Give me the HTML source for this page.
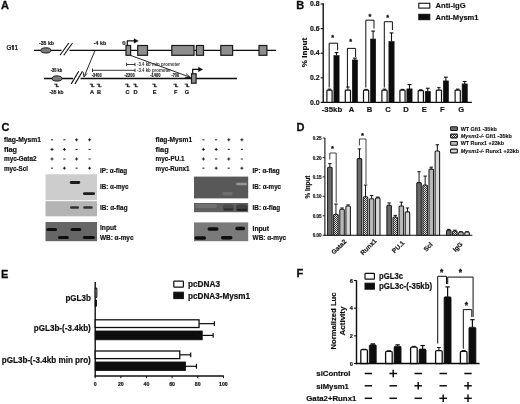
<!DOCTYPE html>
<html><head><meta charset="utf-8"><title>Figure</title>
<style>
html,body{margin:0;padding:0;background:#fff;}
body{width:520px;height:404px;overflow:hidden;}
svg{display:block;font-family:"Liberation Sans",sans-serif;}
text[font-weight=bold]:not([stroke]){stroke:#111;stroke-width:.16px;}
</style></head><body>
<svg width="520" height="404" viewBox="0 0 520 404">
<defs>
<filter id="bl" x="-20%" y="-50%" width="140%" height="200%"><feGaussianBlur stdDeviation="0.45"/></filter>
<filter id="soft"><feGaussianBlur stdDeviation="0.35"/></filter>
<pattern id="chk" width="2" height="2" patternUnits="userSpaceOnUse"><rect width="2" height="2" fill="#e8e8e8"/><rect width="1" height="1" fill="#333"/><rect x="1" y="1" width="1" height="1" fill="#333"/></pattern>
</defs>
<rect width="520" height="404" fill="#fff"/>
<g filter="url(#soft)">
<g id="panelA">
<text x="1.1" y="9.36" font-size="11" font-weight="bold" fill="#111" stroke="#111" stroke-width="0.3">A</text>
<text x="6.5" y="49.58" font-size="6.6" textLength="11.5" lengthAdjust="spacingAndGlyphs" fill="#000" stroke="#000" stroke-width="0.22">Gfi1</text>
<line x1="34" y1="50.4" x2="276" y2="50.4" stroke="#111" stroke-width="1.4" />
<ellipse cx="45.9" cy="50.4" rx="5.1" ry="2.6" fill="#7a7a7a" stroke="#1a1a1a" stroke-width="1"/>
<rect x="61.50" y="49.00" width="8.00" height="3.00" fill="#fff" stroke="none" stroke-width="0" />
<line x1="60" y1="55.2" x2="68.75" y2="43" stroke="#111" stroke-width="1.1" />
<line x1="63.75" y1="55.2" x2="72.5" y2="43" stroke="#111" stroke-width="1.1" />
<text x="46.5" y="44.73" font-size="6.2" font-weight="bold" text-anchor="middle" textLength="15" lengthAdjust="spacingAndGlyphs" fill="#111" >-35 kb</text>
<text x="100" y="44.73" font-size="6.2" font-weight="bold" text-anchor="middle" textLength="12.5" lengthAdjust="spacingAndGlyphs" fill="#111" >-4 kb</text>
<text x="123.8" y="45.16" font-size="6" font-weight="bold" text-anchor="middle" fill="#111" >0</text>
<path d="M127.3 45.5 V40.9 H135" stroke="#111" stroke-width="1.2" fill="none" />
<path d="M134 38.6 L138.4 40.9 L134 43.2 Z" stroke="#111" stroke-width="0.3" fill="#111" />
<rect x="126.00" y="45.50" width="4.60" height="9.80" fill="#8e8e8e" stroke="#1a1a1a" stroke-width="1.2" />
<rect x="137.70" y="45.50" width="9.80" height="9.80" fill="#8e8e8e" stroke="#1a1a1a" stroke-width="1.2" />
<rect x="171.80" y="45.50" width="22.20" height="9.80" fill="#8e8e8e" stroke="#1a1a1a" stroke-width="1.2" />
<rect x="196.40" y="45.50" width="7.10" height="9.80" fill="#8e8e8e" stroke="#1a1a1a" stroke-width="1.2" />
<rect x="220.80" y="45.50" width="11.80" height="9.80" fill="#8e8e8e" stroke="#1a1a1a" stroke-width="1.2" />
<rect x="259.00" y="45.50" width="7.90" height="9.80" fill="#8e8e8e" stroke="#1a1a1a" stroke-width="1.2" />
<line x1="95" y1="50.5" x2="84.6" y2="75.5" stroke="#111" stroke-width="0.9" />
<path d="M83.2 72.2 L84 77 L87 73.6" stroke="#111" stroke-width="0.9" fill="none" />
<line x1="130" y1="55.2" x2="189.5" y2="77" stroke="#111" stroke-width="0.9" />
<path d="M186 73.6 L190.6 77.6 L184.8 77.4" stroke="#111" stroke-width="0.9" fill="none" />
<line x1="126.6" y1="64.5" x2="135" y2="64.5" stroke="#222" stroke-width="0.9" />
<line x1="126.6" y1="62.8" x2="126.6" y2="66.2" stroke="#222" stroke-width="0.9" />
<line x1="135" y1="62.8" x2="135" y2="66.2" stroke="#222" stroke-width="0.9" />
<text x="137" y="66.12" font-size="4.5" font-weight="bold" textLength="43" lengthAdjust="spacingAndGlyphs" fill="#333" stroke="none">-3.4 kb min promoter</text>
<line x1="92.5" y1="70.3" x2="135" y2="70.3" stroke="#222" stroke-width="0.9" />
<line x1="92.5" y1="68.6" x2="92.5" y2="72" stroke="#222" stroke-width="0.9" />
<line x1="135" y1="68.6" x2="135" y2="72" stroke="#222" stroke-width="0.9" />
<text x="137" y="71.92" font-size="4.5" font-weight="bold" textLength="34" lengthAdjust="spacingAndGlyphs" fill="#333" stroke="none">-3.4 kb promoter</text>
<line x1="44" y1="78.5" x2="237" y2="78.5" stroke="#111" stroke-width="1.4" />
<ellipse cx="57" cy="78.5" rx="5" ry="2.6" fill="#7a7a7a" stroke="#1a1a1a" stroke-width="1"/>
<rect x="73.00" y="77.00" width="7.50" height="3.00" fill="#fff" stroke="none" stroke-width="0" />
<line x1="71.25" y1="83.9" x2="78.75" y2="71.25" stroke="#111" stroke-width="1.1" />
<line x1="75" y1="83.9" x2="82.5" y2="71.25" stroke="#111" stroke-width="1.1" />
<text x="56.5" y="71.69" font-size="4.7" font-weight="bold" text-anchor="middle" textLength="11.5" lengthAdjust="spacingAndGlyphs" fill="#111" >-35 kb</text>
<rect x="191.50" y="73.80" width="4.60" height="9.40" fill="#8e8e8e" stroke="#1a1a1a" stroke-width="1.2" />
<path d="M192.7 73.7 V69.4 H199.4" stroke="#111" stroke-width="1.2" fill="none" />
<path d="M198.4 67.1 L202.8 69.4 L198.4 71.7 Z" stroke="#111" stroke-width="0.3" fill="#111" />
<text x="96.7" y="77.14" font-size="5.4" font-weight="bold" text-anchor="middle" textLength="9.8" lengthAdjust="spacingAndGlyphs" fill="#111" >-3400</text>
<text x="129.6" y="77.14" font-size="5.4" font-weight="bold" text-anchor="middle" textLength="10.2" lengthAdjust="spacingAndGlyphs" fill="#111" >-2200</text>
<text x="155.4" y="77.14" font-size="5.4" font-weight="bold" text-anchor="middle" textLength="10.2" lengthAdjust="spacingAndGlyphs" fill="#111" >-1400</text>
<text x="175.3" y="77.14" font-size="5.4" font-weight="bold" text-anchor="middle" textLength="7.8" lengthAdjust="spacingAndGlyphs" fill="#111" >-700</text>
<line x1="54.1" y1="84.2" x2="56.3" y2="84.2" stroke="#111" stroke-width="0.8" />
<line x1="56.8" y1="86.7" x2="59.1" y2="86.7" stroke="#111" stroke-width="0.8" />
<rect x="55.80" y="83.70" width="1.60" height="3.40" fill="#2a2a2a" stroke="none" stroke-width="0" />
<text x="56.5" y="94.39" font-size="5.8" font-weight="bold" text-anchor="middle" textLength="14" lengthAdjust="spacingAndGlyphs" fill="#111" >-35 kb</text>
<line x1="89.6" y1="84.2" x2="91.8" y2="84.2" stroke="#111" stroke-width="0.8" />
<line x1="92.3" y1="86.7" x2="94.6" y2="86.7" stroke="#111" stroke-width="0.8" />
<rect x="91.30" y="83.70" width="1.60" height="3.40" fill="#2a2a2a" stroke="none" stroke-width="0" />
<text x="92" y="94.32" font-size="5.6" font-weight="bold" text-anchor="middle" fill="#111" >A</text>
<line x1="96.6" y1="84.2" x2="98.8" y2="84.2" stroke="#111" stroke-width="0.8" />
<line x1="99.3" y1="86.7" x2="101.6" y2="86.7" stroke="#111" stroke-width="0.8" />
<rect x="98.30" y="83.70" width="1.60" height="3.40" fill="#2a2a2a" stroke="none" stroke-width="0" />
<text x="99" y="94.32" font-size="5.6" font-weight="bold" text-anchor="middle" fill="#111" >B</text>
<line x1="125.1" y1="84.2" x2="127.3" y2="84.2" stroke="#111" stroke-width="0.8" />
<line x1="127.8" y1="86.7" x2="130.1" y2="86.7" stroke="#111" stroke-width="0.8" />
<rect x="126.80" y="83.70" width="1.60" height="3.40" fill="#2a2a2a" stroke="none" stroke-width="0" />
<text x="127.5" y="94.32" font-size="5.6" font-weight="bold" text-anchor="middle" fill="#111" >C</text>
<line x1="133.1" y1="84.2" x2="135.3" y2="84.2" stroke="#111" stroke-width="0.8" />
<line x1="135.8" y1="86.7" x2="138.1" y2="86.7" stroke="#111" stroke-width="0.8" />
<rect x="134.80" y="83.70" width="1.60" height="3.40" fill="#2a2a2a" stroke="none" stroke-width="0" />
<text x="135.5" y="94.32" font-size="5.6" font-weight="bold" text-anchor="middle" fill="#111" >D</text>
<line x1="152.2" y1="84.2" x2="154.4" y2="84.2" stroke="#111" stroke-width="0.8" />
<line x1="154.9" y1="86.7" x2="157.2" y2="86.7" stroke="#111" stroke-width="0.8" />
<rect x="153.90" y="83.70" width="1.60" height="3.40" fill="#2a2a2a" stroke="none" stroke-width="0" />
<text x="154.6" y="94.32" font-size="5.6" font-weight="bold" text-anchor="middle" fill="#111" >E</text>
<line x1="173.4" y1="84.2" x2="175.60000000000002" y2="84.2" stroke="#111" stroke-width="0.8" />
<line x1="176.10000000000002" y1="86.7" x2="178.4" y2="86.7" stroke="#111" stroke-width="0.8" />
<rect x="175.10" y="83.70" width="1.60" height="3.40" fill="#2a2a2a" stroke="none" stroke-width="0" />
<text x="175.8" y="94.32" font-size="5.6" font-weight="bold" text-anchor="middle" fill="#111" >F</text>
<line x1="184.6" y1="84.2" x2="186.8" y2="84.2" stroke="#111" stroke-width="0.8" />
<line x1="187.3" y1="86.7" x2="189.6" y2="86.7" stroke="#111" stroke-width="0.8" />
<rect x="186.30" y="83.70" width="1.60" height="3.40" fill="#2a2a2a" stroke="none" stroke-width="0" />
<text x="187" y="94.32" font-size="5.6" font-weight="bold" text-anchor="middle" fill="#111" >G</text>
</g>
<g id="panelB">
<text x="296.2" y="9.36" font-size="11" font-weight="bold" fill="#111" stroke="#111" stroke-width="0.3">B</text>
<line x1="323.2" y1="3.3" x2="323.2" y2="103.10000000000001" stroke="#111" stroke-width="1.4" />
<line x1="322.5" y1="102.4" x2="471.9" y2="102.4" stroke="#111" stroke-width="1.4" />
<line x1="320.59999999999997" y1="102.4" x2="323.2" y2="102.4" stroke="#111" stroke-width="1.1" />
<text x="319.59999999999997" y="104.67" font-size="6.3" font-weight="bold" text-anchor="end" textLength="9.6" lengthAdjust="spacingAndGlyphs" fill="#111" >0.0</text>
<line x1="320.59999999999997" y1="77.80000000000001" x2="323.2" y2="77.80000000000001" stroke="#111" stroke-width="1.1" />
<text x="319.59999999999997" y="80.07" font-size="6.3" font-weight="bold" text-anchor="end" textLength="9.6" lengthAdjust="spacingAndGlyphs" fill="#111" >0.2</text>
<line x1="320.59999999999997" y1="53.2" x2="323.2" y2="53.2" stroke="#111" stroke-width="1.1" />
<text x="319.59999999999997" y="55.47" font-size="6.3" font-weight="bold" text-anchor="end" textLength="9.6" lengthAdjust="spacingAndGlyphs" fill="#111" >0.4</text>
<line x1="320.59999999999997" y1="28.60000000000001" x2="323.2" y2="28.60000000000001" stroke="#111" stroke-width="1.1" />
<text x="319.59999999999997" y="30.87" font-size="6.3" font-weight="bold" text-anchor="end" textLength="9.6" lengthAdjust="spacingAndGlyphs" fill="#111" >0.6</text>
<line x1="320.59999999999997" y1="4.0" x2="323.2" y2="4.0" stroke="#111" stroke-width="1.1" />
<text x="319.59999999999997" y="6.27" font-size="6.3" font-weight="bold" text-anchor="end" textLength="9.6" lengthAdjust="spacingAndGlyphs" fill="#111" >0.8</text>
<text x="304" y="55.27" font-size="7.7" font-weight="bold" text-anchor="middle" textLength="29.5" lengthAdjust="spacingAndGlyphs" transform="rotate(-90 304 52.5)" fill="#111" >% Input</text>
<line x1="329.49999999999994" y1="90.10000000000001" x2="329.49999999999994" y2="89.116" stroke="#111" stroke-width="1" />
<line x1="327.79999999999995" y1="89.116" x2="331.19999999999993" y2="89.116" stroke="#111" stroke-width="1" />
<line x1="336.50000000000006" y1="55.660000000000004" x2="336.50000000000006" y2="52.585" stroke="#111" stroke-width="1.1" />
<line x1="334.6000000000001" y1="52.585" x2="338.40000000000003" y2="52.585" stroke="#111" stroke-width="1.1" />
<rect x="326.90" y="90.10" width="5.20" height="12.30" fill="#fff" stroke="#111" stroke-width="1.2" rx="0.8"/>
<rect x="333.90" y="55.66" width="5.20" height="46.74" fill="#111" stroke="#111" stroke-width="0.6" />
<text x="332" y="112.04" font-size="7.6" font-weight="bold" text-anchor="middle" textLength="20.5" lengthAdjust="spacingAndGlyphs" fill="#111" >-35kb</text>
<line x1="347.8999999999999" y1="90.10000000000001" x2="347.8999999999999" y2="87.025" stroke="#111" stroke-width="1" />
<line x1="346.19999999999993" y1="87.025" x2="349.5999999999999" y2="87.025" stroke="#111" stroke-width="1" />
<line x1="354.90000000000003" y1="59.96500000000001" x2="354.90000000000003" y2="58.120000000000005" stroke="#111" stroke-width="1.1" />
<line x1="353.00000000000006" y1="58.120000000000005" x2="356.8" y2="58.120000000000005" stroke="#111" stroke-width="1.1" />
<rect x="345.30" y="90.10" width="5.20" height="12.30" fill="#fff" stroke="#111" stroke-width="1.2" rx="0.8"/>
<rect x="352.30" y="59.97" width="5.20" height="42.43" fill="#111" stroke="#111" stroke-width="0.6" />
<text x="351.4" y="112.04" font-size="7.6" font-weight="bold" text-anchor="middle" fill="#111" >A</text>
<line x1="366.09999999999997" y1="90.10000000000001" x2="366.09999999999997" y2="89.36200000000001" stroke="#111" stroke-width="1" />
<line x1="364.4" y1="89.36200000000001" x2="367.79999999999995" y2="89.36200000000001" stroke="#111" stroke-width="1" />
<line x1="373.1000000000001" y1="39.05500000000001" x2="373.1000000000001" y2="31.060000000000002" stroke="#111" stroke-width="1.1" />
<line x1="371.2000000000001" y1="31.060000000000002" x2="375.00000000000006" y2="31.060000000000002" stroke="#111" stroke-width="1.1" />
<rect x="363.50" y="90.10" width="5.20" height="12.30" fill="#fff" stroke="#111" stroke-width="1.2" rx="0.8"/>
<rect x="370.50" y="39.06" width="5.20" height="63.34" fill="#111" stroke="#111" stroke-width="0.6" />
<text x="369.6" y="112.04" font-size="7.6" font-weight="bold" text-anchor="middle" fill="#111" >B</text>
<line x1="384.49999999999994" y1="90.10000000000001" x2="384.49999999999994" y2="89.116" stroke="#111" stroke-width="1" />
<line x1="382.79999999999995" y1="89.116" x2="386.19999999999993" y2="89.116" stroke="#111" stroke-width="1" />
<line x1="391.50000000000006" y1="41.51500000000001" x2="391.50000000000006" y2="32.905000000000015" stroke="#111" stroke-width="1.1" />
<line x1="389.6000000000001" y1="32.905000000000015" x2="393.40000000000003" y2="32.905000000000015" stroke="#111" stroke-width="1.1" />
<rect x="381.90" y="90.10" width="5.20" height="12.30" fill="#fff" stroke="#111" stroke-width="1.2" rx="0.8"/>
<rect x="388.90" y="41.52" width="5.20" height="60.88" fill="#111" stroke="#111" stroke-width="0.6" />
<text x="388" y="112.04" font-size="7.6" font-weight="bold" text-anchor="middle" fill="#111" >C</text>
<line x1="402.49999999999994" y1="90.10000000000001" x2="402.49999999999994" y2="89.36200000000001" stroke="#111" stroke-width="1" />
<line x1="400.79999999999995" y1="89.36200000000001" x2="404.19999999999993" y2="89.36200000000001" stroke="#111" stroke-width="1" />
<line x1="409.50000000000006" y1="88.87" x2="409.50000000000006" y2="84.565" stroke="#111" stroke-width="1.1" />
<line x1="407.6000000000001" y1="84.565" x2="411.40000000000003" y2="84.565" stroke="#111" stroke-width="1.1" />
<rect x="399.90" y="90.10" width="5.20" height="12.30" fill="#fff" stroke="#111" stroke-width="1.2" rx="0.8"/>
<rect x="406.90" y="88.87" width="5.20" height="13.53" fill="#111" stroke="#111" stroke-width="0.6" />
<text x="406" y="112.04" font-size="7.6" font-weight="bold" text-anchor="middle" fill="#111" >D</text>
<line x1="420.79999999999995" y1="90.715" x2="420.79999999999995" y2="89.73100000000001" stroke="#111" stroke-width="1" />
<line x1="419.09999999999997" y1="89.73100000000001" x2="422.49999999999994" y2="89.73100000000001" stroke="#111" stroke-width="1" />
<line x1="427.80000000000007" y1="91.33000000000001" x2="427.80000000000007" y2="88.25500000000001" stroke="#111" stroke-width="1.1" />
<line x1="425.9000000000001" y1="88.25500000000001" x2="429.70000000000005" y2="88.25500000000001" stroke="#111" stroke-width="1.1" />
<rect x="418.20" y="90.72" width="5.20" height="11.69" fill="#fff" stroke="#111" stroke-width="1.2" rx="0.8"/>
<rect x="425.20" y="91.33" width="5.20" height="11.07" fill="#111" stroke="#111" stroke-width="0.6" />
<text x="424.3" y="112.04" font-size="7.6" font-weight="bold" text-anchor="middle" fill="#111" >E</text>
<line x1="438.8999999999999" y1="90.10000000000001" x2="438.8999999999999" y2="87.64" stroke="#111" stroke-width="1" />
<line x1="437.19999999999993" y1="87.64" x2="440.5999999999999" y2="87.64" stroke="#111" stroke-width="1" />
<line x1="445.90000000000003" y1="80.875" x2="445.90000000000003" y2="77.185" stroke="#111" stroke-width="1.1" />
<line x1="444.00000000000006" y1="77.185" x2="447.8" y2="77.185" stroke="#111" stroke-width="1.1" />
<rect x="436.30" y="90.10" width="5.20" height="12.30" fill="#fff" stroke="#111" stroke-width="1.2" rx="0.8"/>
<rect x="443.30" y="80.88" width="5.20" height="21.52" fill="#111" stroke="#111" stroke-width="0.6" />
<text x="442.4" y="112.04" font-size="7.6" font-weight="bold" text-anchor="middle" fill="#111" >F</text>
<line x1="457.69999999999993" y1="90.10000000000001" x2="457.69999999999993" y2="89.116" stroke="#111" stroke-width="1" />
<line x1="455.99999999999994" y1="89.116" x2="459.3999999999999" y2="89.116" stroke="#111" stroke-width="1" />
<line x1="464.70000000000005" y1="83.95" x2="464.70000000000005" y2="81.49000000000001" stroke="#111" stroke-width="1.1" />
<line x1="462.80000000000007" y1="81.49000000000001" x2="466.6" y2="81.49000000000001" stroke="#111" stroke-width="1.1" />
<rect x="455.10" y="90.10" width="5.20" height="12.30" fill="#fff" stroke="#111" stroke-width="1.2" rx="0.8"/>
<rect x="462.10" y="83.95" width="5.20" height="18.45" fill="#111" stroke="#111" stroke-width="0.6" />
<text x="461.2" y="112.04" font-size="7.6" font-weight="bold" text-anchor="middle" fill="#111" >G</text>
<path d="M329.2 87.5 V43.2 H337.6 V50.4" stroke="#111" stroke-width="1" fill="none" />
<text x="332.7" y="40.09" font-size="7.2" font-weight="bold" text-anchor="middle" fill="#111" stroke="#111" stroke-width="0.3">*</text>
<path d="M347.4 87.5 V48.4 H355.6 V57" stroke="#111" stroke-width="1" fill="none" />
<text x="350.7" y="43.59" font-size="7.2" font-weight="bold" text-anchor="middle" fill="#111" stroke="#111" stroke-width="0.3">*</text>
<path d="M365.8 87.5 V20.2 H374 V28.5" stroke="#111" stroke-width="1" fill="none" />
<text x="370" y="19.09" font-size="7.2" font-weight="bold" text-anchor="middle" fill="#111" stroke="#111" stroke-width="0.3">*</text>
<path d="M384.3 87.5 V21.7 H392.4 V30" stroke="#111" stroke-width="1" fill="none" />
<text x="387.6" y="19.69" font-size="7.2" font-weight="bold" text-anchor="middle" fill="#111" stroke="#111" stroke-width="0.3">*</text>
<rect x="418.80" y="3.30" width="11.00" height="4.80" fill="#fff" stroke="#111" stroke-width="1.1" />
<rect x="418.80" y="14.30" width="11.00" height="5.40" fill="#111" stroke="#111" stroke-width="1" />
<text x="435.6" y="8.24" font-size="7.6" font-weight="bold" textLength="30" lengthAdjust="spacingAndGlyphs" fill="#111" >Anti-IgG</text>
<text x="435.6" y="19.94" font-size="7.6" font-weight="bold" textLength="43" lengthAdjust="spacingAndGlyphs" fill="#111" >Anti-Mysm1</text>
</g>
<g id="panelC">
<text x="1.4" y="131.36" font-size="11" font-weight="bold" fill="#111" stroke="#111" stroke-width="0.3">C</text>
<text x="4" y="142.21" font-size="6.7" font-weight="bold" textLength="37" lengthAdjust="spacingAndGlyphs" fill="#111" stroke="#111" stroke-width="0.18">flag-Mysm1</text>
<text x="4" y="151.81" font-size="6.7" font-weight="bold" textLength="13" lengthAdjust="spacingAndGlyphs" fill="#111" stroke="#111" stroke-width="0.18">flag</text>
<text x="4" y="161.41" font-size="6.7" font-weight="bold" textLength="32.5" lengthAdjust="spacingAndGlyphs" fill="#111" stroke="#111" stroke-width="0.18">myc-Gata2</text>
<text x="4" y="170.61" font-size="6.7" font-weight="bold" textLength="24" lengthAdjust="spacingAndGlyphs" fill="#111" stroke="#111" stroke-width="0.18">myc-Scl</text>
<line x1="50.9" y1="139.8" x2="53.1" y2="139.8" stroke="#111" stroke-width="0.9" />
<line x1="63.300000000000004" y1="139.8" x2="65.5" y2="139.8" stroke="#111" stroke-width="0.9" />
<line x1="75.1" y1="139.8" x2="78.1" y2="139.8" stroke="#111" stroke-width="0.9" />
<line x1="76.6" y1="138.3" x2="76.6" y2="141.3" stroke="#111" stroke-width="0.9" />
<line x1="88.1" y1="139.8" x2="91.1" y2="139.8" stroke="#111" stroke-width="0.9" />
<line x1="89.6" y1="138.3" x2="89.6" y2="141.3" stroke="#111" stroke-width="0.9" />
<line x1="50.5" y1="149.4" x2="53.5" y2="149.4" stroke="#111" stroke-width="0.9" />
<line x1="52" y1="147.9" x2="52" y2="150.9" stroke="#111" stroke-width="0.9" />
<line x1="62.900000000000006" y1="149.4" x2="65.9" y2="149.4" stroke="#111" stroke-width="0.9" />
<line x1="64.4" y1="147.9" x2="64.4" y2="150.9" stroke="#111" stroke-width="0.9" />
<line x1="75.5" y1="149.4" x2="77.69999999999999" y2="149.4" stroke="#111" stroke-width="0.9" />
<line x1="88.5" y1="149.4" x2="90.69999999999999" y2="149.4" stroke="#111" stroke-width="0.9" />
<line x1="50.5" y1="159" x2="53.5" y2="159" stroke="#111" stroke-width="0.9" />
<line x1="52" y1="157.5" x2="52" y2="160.5" stroke="#111" stroke-width="0.9" />
<line x1="63.300000000000004" y1="159" x2="65.5" y2="159" stroke="#111" stroke-width="0.9" />
<line x1="75.1" y1="159" x2="78.1" y2="159" stroke="#111" stroke-width="0.9" />
<line x1="76.6" y1="157.5" x2="76.6" y2="160.5" stroke="#111" stroke-width="0.9" />
<line x1="88.5" y1="159" x2="90.69999999999999" y2="159" stroke="#111" stroke-width="0.9" />
<line x1="50.9" y1="168.2" x2="53.1" y2="168.2" stroke="#111" stroke-width="0.9" />
<line x1="62.900000000000006" y1="168.2" x2="65.9" y2="168.2" stroke="#111" stroke-width="0.9" />
<line x1="64.4" y1="166.7" x2="64.4" y2="169.7" stroke="#111" stroke-width="0.9" />
<line x1="75.5" y1="168.2" x2="77.69999999999999" y2="168.2" stroke="#111" stroke-width="0.9" />
<line x1="88.1" y1="168.2" x2="91.1" y2="168.2" stroke="#111" stroke-width="0.9" />
<line x1="89.6" y1="166.7" x2="89.6" y2="169.7" stroke="#111" stroke-width="0.9" />
<text x="100" y="172.61" font-size="6.7" font-weight="bold" textLength="27" lengthAdjust="spacingAndGlyphs" fill="#111" stroke="#111" stroke-width="0.18">IP: α-flag</text>
<text x="100" y="189.41" font-size="6.7" font-weight="bold" textLength="28.5" lengthAdjust="spacingAndGlyphs" fill="#111" stroke="#111" stroke-width="0.18">IB: α-myc</text>
<text x="100" y="209.71" font-size="6.7" font-weight="bold" textLength="27.5" lengthAdjust="spacingAndGlyphs" fill="#111" stroke="#111" stroke-width="0.18">IB: α-flag</text>
<text x="100" y="230.01" font-size="6.7" font-weight="bold" textLength="16.3" lengthAdjust="spacingAndGlyphs" fill="#111" stroke="#111" stroke-width="0.18">Input</text>
<text x="100" y="239.91" font-size="6.7" font-weight="bold" textLength="33.5" lengthAdjust="spacingAndGlyphs" fill="#111" stroke="#111" stroke-width="0.18">WB: α-myc</text>
<rect x="45.50" y="174.30" width="51.50" height="25.90" fill="#cdcdcd" stroke="none" stroke-width="0" />
<rect x="45.50" y="201.20" width="51.50" height="15.10" fill="#b4b4b4" stroke="none" stroke-width="0" />
<rect x="45.50" y="222.00" width="51.50" height="19.20" fill="#666" stroke="none" stroke-width="0" />
<rect x="69.75" y="181.10" width="10.5" height="2.8" rx="1.40" fill="#1a1a1a" opacity="1" filter="url(#bl)"/>
<rect x="83.00" y="192.30" width="12" height="2.8" rx="1.40" fill="#1a1a1a" opacity="1" filter="url(#bl)"/>
<rect x="70.00" y="206.30" width="9" height="2.4" rx="1.20" fill="#333" opacity="1" filter="url(#bl)"/>
<rect x="83.25" y="206.30" width="9.5" height="2.4" rx="1.20" fill="#333" opacity="1" filter="url(#bl)"/>
<rect x="46.20" y="228.00" width="10.8" height="3" rx="1.50" fill="#0a0a0a" opacity="1" filter="url(#bl)"/>
<rect x="58.00" y="236.00" width="10.8" height="3" rx="1.50" fill="#0a0a0a" opacity="1" filter="url(#bl)"/>
<rect x="70.50" y="228.00" width="10.8" height="3" rx="1.50" fill="#0a0a0a" opacity="1" filter="url(#bl)"/>
<rect x="82.80" y="236.00" width="12" height="3" rx="1.50" fill="#0a0a0a" opacity="1" filter="url(#bl)"/>
<text x="155.6" y="142.21" font-size="6.7" font-weight="bold" textLength="36.5" lengthAdjust="spacingAndGlyphs" fill="#111" stroke="#111" stroke-width="0.18">flag-Mysm1</text>
<text x="155.6" y="151.81" font-size="6.7" font-weight="bold" textLength="13" lengthAdjust="spacingAndGlyphs" fill="#111" stroke="#111" stroke-width="0.18">flag</text>
<text x="155.6" y="161.41" font-size="6.7" font-weight="bold" textLength="29" lengthAdjust="spacingAndGlyphs" fill="#111" stroke="#111" stroke-width="0.18">myc-PU.1</text>
<text x="155.6" y="170.61" font-size="6.7" font-weight="bold" textLength="34" lengthAdjust="spacingAndGlyphs" fill="#111" stroke="#111" stroke-width="0.18">myc-Runx1</text>
<line x1="202.3" y1="139.8" x2="204.5" y2="139.8" stroke="#111" stroke-width="0.9" />
<line x1="215.1" y1="139.8" x2="217.29999999999998" y2="139.8" stroke="#111" stroke-width="0.9" />
<line x1="227.3" y1="139.8" x2="230.3" y2="139.8" stroke="#111" stroke-width="0.9" />
<line x1="228.8" y1="138.3" x2="228.8" y2="141.3" stroke="#111" stroke-width="0.9" />
<line x1="240.4" y1="139.8" x2="243.4" y2="139.8" stroke="#111" stroke-width="0.9" />
<line x1="241.9" y1="138.3" x2="241.9" y2="141.3" stroke="#111" stroke-width="0.9" />
<line x1="201.9" y1="149.4" x2="204.9" y2="149.4" stroke="#111" stroke-width="0.9" />
<line x1="203.4" y1="147.9" x2="203.4" y2="150.9" stroke="#111" stroke-width="0.9" />
<line x1="214.7" y1="149.4" x2="217.7" y2="149.4" stroke="#111" stroke-width="0.9" />
<line x1="216.2" y1="147.9" x2="216.2" y2="150.9" stroke="#111" stroke-width="0.9" />
<line x1="227.70000000000002" y1="149.4" x2="229.9" y2="149.4" stroke="#111" stroke-width="0.9" />
<line x1="240.8" y1="149.4" x2="243.0" y2="149.4" stroke="#111" stroke-width="0.9" />
<line x1="201.9" y1="159" x2="204.9" y2="159" stroke="#111" stroke-width="0.9" />
<line x1="203.4" y1="157.5" x2="203.4" y2="160.5" stroke="#111" stroke-width="0.9" />
<line x1="215.1" y1="159" x2="217.29999999999998" y2="159" stroke="#111" stroke-width="0.9" />
<line x1="227.3" y1="159" x2="230.3" y2="159" stroke="#111" stroke-width="0.9" />
<line x1="228.8" y1="157.5" x2="228.8" y2="160.5" stroke="#111" stroke-width="0.9" />
<line x1="240.8" y1="159" x2="243.0" y2="159" stroke="#111" stroke-width="0.9" />
<line x1="202.3" y1="168.2" x2="204.5" y2="168.2" stroke="#111" stroke-width="0.9" />
<line x1="214.7" y1="168.2" x2="217.7" y2="168.2" stroke="#111" stroke-width="0.9" />
<line x1="216.2" y1="166.7" x2="216.2" y2="169.7" stroke="#111" stroke-width="0.9" />
<line x1="227.70000000000002" y1="168.2" x2="229.9" y2="168.2" stroke="#111" stroke-width="0.9" />
<line x1="240.4" y1="168.2" x2="243.4" y2="168.2" stroke="#111" stroke-width="0.9" />
<line x1="241.9" y1="166.7" x2="241.9" y2="169.7" stroke="#111" stroke-width="0.9" />
<text x="252.6" y="172.61" font-size="6.7" font-weight="bold" textLength="27" lengthAdjust="spacingAndGlyphs" fill="#111" stroke="#111" stroke-width="0.18">IP: α-flag</text>
<text x="252.6" y="189.41" font-size="6.7" font-weight="bold" textLength="28.5" lengthAdjust="spacingAndGlyphs" fill="#111" stroke="#111" stroke-width="0.18">IB: α-myc</text>
<text x="252.6" y="209.71" font-size="6.7" font-weight="bold" textLength="27.5" lengthAdjust="spacingAndGlyphs" fill="#111" stroke="#111" stroke-width="0.18">IB: α-flag</text>
<text x="252.6" y="230.81" font-size="6.7" font-weight="bold" textLength="16.3" lengthAdjust="spacingAndGlyphs" fill="#111" stroke="#111" stroke-width="0.18">Input</text>
<text x="252.6" y="239.91" font-size="6.7" font-weight="bold" textLength="33.5" lengthAdjust="spacingAndGlyphs" fill="#111" stroke="#111" stroke-width="0.18">WB: α-myc</text>
<rect x="194.00" y="176.60" width="54.20" height="21.80" fill="#595959" stroke="none" stroke-width="0" />
<rect x="194.00" y="203.00" width="54.20" height="9.20" fill="#5e5e5e" stroke="none" stroke-width="0" />
<rect x="194.00" y="222.40" width="54.20" height="18.80" fill="#7a7a7a" stroke="none" stroke-width="0" />
<rect x="236.00" y="182.80" width="11" height="2.4" rx="1.20" fill="#999" opacity="0.95" filter="url(#bl)"/>
<rect x="222.25" y="192.00" width="10.5" height="3.2" rx="1.60" fill="#777" opacity="0.7" filter="url(#bl)"/>
<rect x="223.00" y="204.60" width="11" height="6" rx="3.00" fill="#444" opacity="0.7" filter="url(#bl)"/>
<rect x="236.05" y="204.60" width="11.5" height="6" rx="3.00" fill="#3a3a3a" opacity="0.8" filter="url(#bl)"/>
<rect x="223.50" y="208.60" width="10" height="2" rx="1.00" fill="#222" opacity="0.7" filter="url(#bl)"/>
<rect x="236.30" y="208.70" width="11" height="2.2" rx="1.10" fill="#1a1a1a" opacity="0.8" filter="url(#bl)"/>
<rect x="195.00" y="204.00" width="22" height="4" rx="2.00" fill="#858585" opacity="0.5" filter="url(#bl)"/>
<rect x="194.40" y="236.20" width="11.6" height="3.6" rx="1.80" fill="#0a0a0a" opacity="1" filter="url(#bl)"/>
<rect x="207.50" y="227.20" width="11" height="3.6" rx="1.80" fill="#0a0a0a" opacity="1" filter="url(#bl)"/>
<rect x="220.95" y="236.00" width="11.5" height="3.6" rx="1.80" fill="#0a0a0a" opacity="1" filter="url(#bl)"/>
<rect x="235.30" y="226.80" width="9.8" height="3.4" rx="1.70" fill="#0a0a0a" opacity="1" filter="url(#bl)"/>
</g>
<g id="panelD">
<text x="296.4" y="130.76" font-size="11" font-weight="bold" fill="#111" stroke="#111" stroke-width="0.3">D</text>
<line x1="324.9" y1="138" x2="324.9" y2="235.7" stroke="#111" stroke-width="1.1" />
<line x1="324.4" y1="235.2" x2="472.3" y2="235.2" stroke="#111" stroke-width="1.1" />
<line x1="322.7" y1="235.2" x2="324.9" y2="235.2" stroke="#111" stroke-width="0.9" />
<text x="321.7" y="237.36" font-size="4.6" font-weight="bold" text-anchor="end" textLength="9" lengthAdjust="spacingAndGlyphs" fill="#111" stroke="#111" stroke-width="0.15">0.00</text>
<line x1="322.7" y1="215.76" x2="324.9" y2="215.76" stroke="#111" stroke-width="0.9" />
<text x="321.7" y="217.92" font-size="4.6" font-weight="bold" text-anchor="end" textLength="9" lengthAdjust="spacingAndGlyphs" fill="#111" stroke="#111" stroke-width="0.15">0.05</text>
<line x1="322.7" y1="196.32" x2="324.9" y2="196.32" stroke="#111" stroke-width="0.9" />
<text x="321.7" y="198.48" font-size="4.6" font-weight="bold" text-anchor="end" textLength="9" lengthAdjust="spacingAndGlyphs" fill="#111" stroke="#111" stroke-width="0.15">0.10</text>
<line x1="322.7" y1="176.88" x2="324.9" y2="176.88" stroke="#111" stroke-width="0.9" />
<text x="321.7" y="179.04" font-size="4.6" font-weight="bold" text-anchor="end" textLength="9" lengthAdjust="spacingAndGlyphs" fill="#111" stroke="#111" stroke-width="0.15">0.15</text>
<line x1="322.7" y1="157.44" x2="324.9" y2="157.44" stroke="#111" stroke-width="0.9" />
<text x="321.7" y="159.60" font-size="4.6" font-weight="bold" text-anchor="end" textLength="9" lengthAdjust="spacingAndGlyphs" fill="#111" stroke="#111" stroke-width="0.15">0.20</text>
<line x1="322.7" y1="138.0" x2="324.9" y2="138.0" stroke="#111" stroke-width="0.9" />
<text x="321.7" y="140.16" font-size="4.6" font-weight="bold" text-anchor="end" textLength="9" lengthAdjust="spacingAndGlyphs" fill="#111" stroke="#111" stroke-width="0.15">0.25</text>
<text x="307.6" y="189.27" font-size="6.3" font-weight="bold" text-anchor="middle" textLength="23" lengthAdjust="spacingAndGlyphs" transform="rotate(-90 307.6 187)" fill="#111" >% Input</text>
<line x1="329.85" y1="167.16" x2="329.85" y2="163.6608" stroke="#111" stroke-width="1" />
<line x1="328.15000000000003" y1="163.6608" x2="331.55" y2="163.6608" stroke="#111" stroke-width="1" />
<path d="M327.60 235.2 V168.16 Q327.60 167.16 328.60 167.16 H331.10 Q332.10 167.16 332.10 168.16 V235.2 Z" fill="#6b6b6b" stroke="#1a1a1a" stroke-width="1.05"/>
<line x1="335.95000000000005" y1="214.20479999999998" x2="335.95000000000005" y2="204.09599999999998" stroke="#111" stroke-width="1" />
<line x1="334.25000000000006" y1="204.09599999999998" x2="337.65000000000003" y2="204.09599999999998" stroke="#111" stroke-width="1" />
<path d="M333.70 235.2 V215.20 Q333.70 214.20 334.70 214.20 H337.20 Q338.20 214.20 338.20 215.20 V235.2 Z" fill="url(#chk)" stroke="#1a1a1a" stroke-width="1.05"/>
<line x1="342.05" y1="209.1504" x2="342.05" y2="207.98399999999998" stroke="#111" stroke-width="1" />
<line x1="340.35" y1="207.98399999999998" x2="343.75" y2="207.98399999999998" stroke="#111" stroke-width="1" />
<path d="M339.80 235.2 V210.15 Q339.80 209.15 340.80 209.15 H343.30 Q344.30 209.15 344.30 210.15 V235.2 Z" fill="#b9b9b9" stroke="#1a1a1a" stroke-width="1.05"/>
<line x1="348.15000000000003" y1="206.04" x2="348.15000000000003" y2="204.87359999999998" stroke="#111" stroke-width="1" />
<line x1="346.45000000000005" y1="204.87359999999998" x2="349.85" y2="204.87359999999998" stroke="#111" stroke-width="1" />
<path d="M345.90 235.2 V207.04 Q345.90 206.04 346.90 206.04 H349.40 Q350.40 206.04 350.40 207.04 V235.2 Z" fill="#d6d6d6" stroke="#1a1a1a" stroke-width="1.05"/>
<text x="338.75" y="249.14" font-size="6.5" font-weight="bold" text-anchor="middle" transform="rotate(-45 338.75 246.8)" fill="#111" >Gata2</text>
<line x1="359.45" y1="158.60639999999998" x2="359.45" y2="148.88639999999998" stroke="#111" stroke-width="1" />
<line x1="357.75" y1="148.88639999999998" x2="361.15" y2="148.88639999999998" stroke="#111" stroke-width="1" />
<path d="M357.20 235.2 V159.61 Q357.20 158.61 358.20 158.61 H360.70 Q361.70 158.61 361.70 159.61 V235.2 Z" fill="#6b6b6b" stroke="#1a1a1a" stroke-width="1.05"/>
<line x1="365.55" y1="196.7088" x2="365.55" y2="185.04479999999998" stroke="#111" stroke-width="1" />
<line x1="363.85" y1="185.04479999999998" x2="367.25" y2="185.04479999999998" stroke="#111" stroke-width="1" />
<path d="M363.30 235.2 V197.71 Q363.30 196.71 364.30 196.71 H366.80 Q367.80 196.71 367.80 197.71 V235.2 Z" fill="url(#chk)" stroke="#1a1a1a" stroke-width="1.05"/>
<line x1="371.65" y1="198.65279999999998" x2="371.65" y2="195.5424" stroke="#111" stroke-width="1" />
<line x1="369.95" y1="195.5424" x2="373.34999999999997" y2="195.5424" stroke="#111" stroke-width="1" />
<path d="M369.40 235.2 V199.65 Q369.40 198.65 370.40 198.65 H372.90 Q373.90 198.65 373.90 199.65 V235.2 Z" fill="#b9b9b9" stroke="#1a1a1a" stroke-width="1.05"/>
<line x1="377.75" y1="197.87519999999998" x2="377.75" y2="197.0976" stroke="#111" stroke-width="1" />
<line x1="376.05" y1="197.0976" x2="379.45" y2="197.0976" stroke="#111" stroke-width="1" />
<path d="M375.50 235.2 V198.88 Q375.50 197.88 376.50 197.88 H379.00 Q380.00 197.88 380.00 198.88 V235.2 Z" fill="#d6d6d6" stroke="#1a1a1a" stroke-width="1.05"/>
<text x="368.34999999999997" y="249.14" font-size="6.5" font-weight="bold" text-anchor="middle" transform="rotate(-45 368.34999999999997 246.8)" fill="#111" >Runx1</text>
<line x1="389.15" y1="205.26239999999999" x2="389.15" y2="202.9296" stroke="#111" stroke-width="1" />
<line x1="387.45" y1="202.9296" x2="390.84999999999997" y2="202.9296" stroke="#111" stroke-width="1" />
<path d="M386.90 235.2 V206.26 Q386.90 205.26 387.90 205.26 H390.40 Q391.40 205.26 391.40 206.26 V235.2 Z" fill="#6b6b6b" stroke="#1a1a1a" stroke-width="1.05"/>
<line x1="395.25" y1="216.9264" x2="395.25" y2="215.3712" stroke="#111" stroke-width="1" />
<line x1="393.55" y1="215.3712" x2="396.95" y2="215.3712" stroke="#111" stroke-width="1" />
<path d="M393.00 235.2 V217.93 Q393.00 216.93 394.00 216.93 H396.50 Q397.50 216.93 397.50 217.93 V235.2 Z" fill="url(#chk)" stroke="#1a1a1a" stroke-width="1.05"/>
<line x1="401.34999999999997" y1="206.04" x2="401.34999999999997" y2="202.152" stroke="#111" stroke-width="1" />
<line x1="399.65" y1="202.152" x2="403.04999999999995" y2="202.152" stroke="#111" stroke-width="1" />
<path d="M399.10 235.2 V207.04 Q399.10 206.04 400.10 206.04 H402.60 Q403.60 206.04 403.60 207.04 V235.2 Z" fill="#b9b9b9" stroke="#1a1a1a" stroke-width="1.05"/>
<line x1="407.45" y1="211.87199999999999" x2="407.45" y2="207.98399999999998" stroke="#111" stroke-width="1" />
<line x1="405.75" y1="207.98399999999998" x2="409.15" y2="207.98399999999998" stroke="#111" stroke-width="1" />
<path d="M405.20 235.2 V212.87 Q405.20 211.87 406.20 211.87 H408.70 Q409.70 211.87 409.70 212.87 V235.2 Z" fill="#d6d6d6" stroke="#1a1a1a" stroke-width="1.05"/>
<text x="398.04999999999995" y="249.14" font-size="6.5" font-weight="bold" text-anchor="middle" transform="rotate(-45 398.04999999999995 246.8)" fill="#111" >PU.1</text>
<line x1="419.05" y1="182.59535999999997" x2="419.05" y2="171.70896" stroke="#111" stroke-width="1" />
<line x1="417.35" y1="171.70896" x2="420.75" y2="171.70896" stroke="#111" stroke-width="1" />
<path d="M416.80 235.2 V183.60 Q416.80 182.60 417.80 182.60 H420.30 Q421.30 182.60 421.30 183.60 V235.2 Z" fill="#6b6b6b" stroke="#1a1a1a" stroke-width="1.05"/>
<line x1="425.15000000000003" y1="185.04479999999998" x2="425.15000000000003" y2="176.1024" stroke="#111" stroke-width="1" />
<line x1="423.45000000000005" y1="176.1024" x2="426.85" y2="176.1024" stroke="#111" stroke-width="1" />
<path d="M422.90 235.2 V186.04 Q422.90 185.04 423.90 185.04 H426.40 Q427.40 185.04 427.40 186.04 V235.2 Z" fill="url(#chk)" stroke="#1a1a1a" stroke-width="1.05"/>
<line x1="431.25" y1="169.10399999999998" x2="431.25" y2="167.15999999999997" stroke="#111" stroke-width="1" />
<line x1="429.55" y1="167.15999999999997" x2="432.95" y2="167.15999999999997" stroke="#111" stroke-width="1" />
<path d="M429.00 235.2 V170.10 Q429.00 169.10 430.00 169.10 H432.50 Q433.50 169.10 433.50 170.10 V235.2 Z" fill="#b9b9b9" stroke="#1a1a1a" stroke-width="1.05"/>
<line x1="437.35" y1="150.98592" x2="437.35" y2="144.76512" stroke="#111" stroke-width="1" />
<line x1="435.65000000000003" y1="144.76512" x2="439.05" y2="144.76512" stroke="#111" stroke-width="1" />
<path d="M435.10 235.2 V151.99 Q435.10 150.99 436.10 150.99 H438.60 Q439.60 150.99 439.60 151.99 V235.2 Z" fill="#d6d6d6" stroke="#1a1a1a" stroke-width="1.05"/>
<text x="427.95" y="249.14" font-size="6.5" font-weight="bold" text-anchor="middle" transform="rotate(-45 427.95 246.8)" fill="#111" >Scl</text>
<line x1="448.75" y1="230.1456" x2="448.75" y2="229.368" stroke="#111" stroke-width="1" />
<line x1="447.05" y1="229.368" x2="450.45" y2="229.368" stroke="#111" stroke-width="1" />
<path d="M446.50 235.2 V231.15 Q446.50 230.15 447.50 230.15 H450.00 Q451.00 230.15 451.00 231.15 V235.2 Z" fill="#6b6b6b" stroke="#1a1a1a" stroke-width="1.05"/>
<line x1="454.85" y1="230.92319999999998" x2="454.85" y2="230.1456" stroke="#111" stroke-width="1" />
<line x1="453.15000000000003" y1="230.1456" x2="456.55" y2="230.1456" stroke="#111" stroke-width="1" />
<path d="M452.60 235.2 V231.92 Q452.60 230.92 453.60 230.92 H456.10 Q457.10 230.92 457.10 231.92 V235.2 Z" fill="url(#chk)" stroke="#1a1a1a" stroke-width="1.05"/>
<line x1="460.95" y1="232.0896" x2="460.95" y2="231.7008" stroke="#111" stroke-width="1" />
<line x1="459.25" y1="231.7008" x2="462.65" y2="231.7008" stroke="#111" stroke-width="1" />
<path d="M458.70 235.2 V233.09 Q458.70 232.09 459.70 232.09 H462.20 Q463.20 232.09 463.20 233.09 V235.2 Z" fill="#b9b9b9" stroke="#1a1a1a" stroke-width="1.05"/>
<line x1="467.05" y1="232.0896" x2="467.05" y2="231.7008" stroke="#111" stroke-width="1" />
<line x1="465.35" y1="231.7008" x2="468.75" y2="231.7008" stroke="#111" stroke-width="1" />
<path d="M464.80 235.2 V233.09 Q464.80 232.09 465.80 232.09 H468.30 Q469.30 232.09 469.30 233.09 V235.2 Z" fill="#d6d6d6" stroke="#1a1a1a" stroke-width="1.05"/>
<text x="457.65" y="249.14" font-size="6.5" font-weight="bold" text-anchor="middle" transform="rotate(-45 457.65 246.8)" fill="#111" >IgG</text>
<path d="M329.8 159.5 V153 H336.2 V202.5" stroke="#111" stroke-width="0.8" fill="none" />
<text x="332.4" y="151.34" font-size="7.6" font-weight="bold" text-anchor="middle" fill="#111" stroke="#111" stroke-width="0.25">*</text>
<path d="M359.4 145.5 V139 H366 V184" stroke="#111" stroke-width="0.8" fill="none" />
<text x="362.4" y="137.94" font-size="7.6" font-weight="bold" text-anchor="middle" fill="#111" stroke="#111" stroke-width="0.25">*</text>
<rect x="450.60" y="126.70" width="6.80" height="3.80" fill="#6b6b6b" stroke="#1a1a1a" stroke-width="1.1" rx="0.8"/>
<text x="460.7" y="130.51" font-size="5.3" font-weight="bold" textLength="36" lengthAdjust="spacingAndGlyphs" fill="#111" stroke="#111" stroke-width="0.12">WT Gfi1 -35kb</text>
<rect x="450.60" y="134.10" width="6.80" height="3.80" fill="url(#chk)" stroke="#1a1a1a" stroke-width="1.1" rx="0.8"/>
<text x="460.7" y="137.91" font-size="5.3" font-weight="bold" textLength="51" lengthAdjust="spacingAndGlyphs" fill="#111" stroke="#111" stroke-width="0.12"><tspan font-style="italic">Mysm1-/-</tspan> Gfi1 -35kb</text>
<rect x="450.60" y="141.50" width="6.80" height="3.80" fill="#b9b9b9" stroke="#1a1a1a" stroke-width="1.1" rx="0.8"/>
<text x="460.7" y="145.31" font-size="5.3" font-weight="bold" textLength="43.3" lengthAdjust="spacingAndGlyphs" fill="#111" stroke="#111" stroke-width="0.12">WT Runx1 +23kb</text>
<rect x="450.60" y="149.10" width="6.80" height="3.80" fill="#d6d6d6" stroke="#1a1a1a" stroke-width="1.1" rx="0.8"/>
<text x="460.7" y="152.91" font-size="5.3" font-weight="bold" textLength="58.3" lengthAdjust="spacingAndGlyphs" fill="#111" stroke="#111" stroke-width="0.12"><tspan font-style="italic">Mysm1-/-</tspan> Runx1 +23kb</text>
</g>
<g id="panelE">
<text x="0.9" y="277.96" font-size="11" font-weight="bold" fill="#111" stroke="#111" stroke-width="0.3">E</text>
<line x1="95.2" y1="282" x2="95.2" y2="376.6" stroke="#111" stroke-width="1.4" />
<line x1="94.5" y1="376" x2="223.89999999999998" y2="376" stroke="#111" stroke-width="1.3" />
<line x1="95.2" y1="376" x2="95.2" y2="378.2" stroke="#111" stroke-width="1" />
<text x="95.2" y="385.63" font-size="6.2" font-weight="bold" text-anchor="middle" textLength="2.9" lengthAdjust="spacingAndGlyphs" fill="#111" stroke="#111" stroke-width="0.2">0</text>
<line x1="120.84" y1="376" x2="120.84" y2="378.2" stroke="#111" stroke-width="1" />
<text x="120.84" y="385.63" font-size="6.2" font-weight="bold" text-anchor="middle" textLength="5.8" lengthAdjust="spacingAndGlyphs" fill="#111" stroke="#111" stroke-width="0.2">20</text>
<line x1="146.48000000000002" y1="376" x2="146.48000000000002" y2="378.2" stroke="#111" stroke-width="1" />
<text x="146.48000000000002" y="385.63" font-size="6.2" font-weight="bold" text-anchor="middle" textLength="5.8" lengthAdjust="spacingAndGlyphs" fill="#111" stroke="#111" stroke-width="0.2">40</text>
<line x1="172.12" y1="376" x2="172.12" y2="378.2" stroke="#111" stroke-width="1" />
<text x="172.12" y="385.63" font-size="6.2" font-weight="bold" text-anchor="middle" textLength="5.8" lengthAdjust="spacingAndGlyphs" fill="#111" stroke="#111" stroke-width="0.2">60</text>
<line x1="197.76" y1="376" x2="197.76" y2="378.2" stroke="#111" stroke-width="1" />
<text x="197.76" y="385.63" font-size="6.2" font-weight="bold" text-anchor="middle" textLength="5.8" lengthAdjust="spacingAndGlyphs" fill="#111" stroke="#111" stroke-width="0.2">80</text>
<line x1="223.39999999999998" y1="376" x2="223.39999999999998" y2="378.2" stroke="#111" stroke-width="1" />
<text x="223.39999999999998" y="385.63" font-size="6.2" font-weight="bold" text-anchor="middle" textLength="8.7" lengthAdjust="spacingAndGlyphs" fill="#111" stroke="#111" stroke-width="0.2">100</text>
<text x="90.8" y="300.66" font-size="8.5" font-weight="bold" text-anchor="end" textLength="25.4" lengthAdjust="spacingAndGlyphs" fill="#111" stroke="#111" stroke-width="0.2">pGL3b</text>
<text x="90.8" y="331.26" font-size="8.5" font-weight="bold" text-anchor="end" textLength="57" lengthAdjust="spacingAndGlyphs" fill="#111" stroke="#111" stroke-width="0.2">pGL3b-(-3.4kb)</text>
<text x="90.8" y="362.66" font-size="8.5" font-weight="bold" text-anchor="end" textLength="89" lengthAdjust="spacingAndGlyphs" fill="#111" stroke="#111" stroke-width="0.2">pGL3b-(-3.4kb min pro)</text>
<line x1="199.042" y1="323.65" x2="214.426" y2="323.65" stroke="#111" stroke-width="1.2" />
<line x1="214.426" y1="321.25" x2="214.426" y2="326.04999999999995" stroke="#111" stroke-width="1.2" />
<rect x="95.20" y="319.80" width="103.84" height="7.70" fill="#fff" stroke="#111" stroke-width="1.3" />
<line x1="202.247" y1="335.4" x2="213.144" y2="335.4" stroke="#111" stroke-width="1.2" />
<line x1="213.144" y1="333.0" x2="213.144" y2="337.79999999999995" stroke="#111" stroke-width="1.2" />
<rect x="95.20" y="331.00" width="107.05" height="8.80" fill="#111" stroke="#111" stroke-width="0.8" />
<line x1="179.812" y1="354.8" x2="190.709" y2="354.8" stroke="#111" stroke-width="1.2" />
<line x1="190.709" y1="352.40000000000003" x2="190.709" y2="357.2" stroke="#111" stroke-width="1.2" />
<rect x="95.20" y="351.00" width="84.61" height="7.60" fill="#fff" stroke="#111" stroke-width="1.3" />
<line x1="185.58100000000002" y1="366.3" x2="196.478" y2="366.3" stroke="#111" stroke-width="1.2" />
<line x1="196.478" y1="363.90000000000003" x2="196.478" y2="368.7" stroke="#111" stroke-width="1.2" />
<rect x="95.20" y="362.00" width="90.38" height="8.60" fill="#111" stroke="#111" stroke-width="0.8" />
<rect x="95.20" y="288.00" width="1.60" height="9.60" fill="#fff" stroke="#111" stroke-width="1.1" rx="0.8"/>
<rect x="95.20" y="300.00" width="1.20" height="6.40" fill="#111" stroke="#111" stroke-width="1.1" rx="0.6"/>
<rect x="173.80" y="281.20" width="9.60" height="6.00" fill="#fff" stroke="#111" stroke-width="1.2" rx="0.6"/>
<rect x="173.80" y="292.20" width="9.60" height="6.40" fill="#111" stroke="#111" stroke-width="1" />
<text x="188" y="287.22" font-size="8.4" font-weight="bold" textLength="32" lengthAdjust="spacingAndGlyphs" fill="#111" stroke="#111" stroke-width="0.2">pcDNA3</text>
<text x="188" y="298.62" font-size="8.4" font-weight="bold" textLength="62" lengthAdjust="spacingAndGlyphs" fill="#111" stroke="#111" stroke-width="0.2">pcDNA3-Mysm1</text>
</g>
<g id="panelF">
<text x="296.4" y="277.16" font-size="11" font-weight="bold" fill="#111" stroke="#111" stroke-width="0.3">F</text>
<line x1="356.5" y1="280.3" x2="356.5" y2="364.2" stroke="#111" stroke-width="1.4" />
<line x1="355.8" y1="363.5" x2="479.6" y2="363.5" stroke="#111" stroke-width="1.4" />
<line x1="353.9" y1="363.5" x2="356.5" y2="363.5" stroke="#111" stroke-width="1.1" />
<text x="352.9" y="365.52" font-size="5.6" font-weight="bold" text-anchor="end" fill="#111" stroke="#111" stroke-width="0.2">0</text>
<line x1="353.9" y1="335.84" x2="356.5" y2="335.84" stroke="#111" stroke-width="1.1" />
<text x="352.9" y="337.86" font-size="5.6" font-weight="bold" text-anchor="end" fill="#111" stroke="#111" stroke-width="0.2">2</text>
<line x1="353.9" y1="308.18" x2="356.5" y2="308.18" stroke="#111" stroke-width="1.1" />
<text x="352.9" y="310.20" font-size="5.6" font-weight="bold" text-anchor="end" fill="#111" stroke="#111" stroke-width="0.2">4</text>
<line x1="353.9" y1="280.52" x2="356.5" y2="280.52" stroke="#111" stroke-width="1.1" />
<text x="352.9" y="282.54" font-size="5.6" font-weight="bold" text-anchor="end" fill="#111" stroke="#111" stroke-width="0.2">6</text>
<text x="333" y="323.88" font-size="8" font-weight="bold" text-anchor="middle" textLength="57" lengthAdjust="spacingAndGlyphs" transform="rotate(-90 333 321)" fill="#111" stroke="#111" stroke-width="0.2">Normalized Luc</text>
<text x="341.8" y="323.88" font-size="8" font-weight="bold" text-anchor="middle" textLength="29" lengthAdjust="spacingAndGlyphs" transform="rotate(-90 341.8 321)" fill="#111" stroke="#111" stroke-width="0.2">Activity</text>
<line x1="364.09999999999997" y1="349.67" x2="364.09999999999997" y2="349.25509999999997" stroke="#111" stroke-width="1" />
<line x1="362.2" y1="349.25509999999997" x2="365.99999999999994" y2="349.25509999999997" stroke="#111" stroke-width="1" />
<path d="M360.80 363.5 V350.87 Q360.80 349.67 362.00 349.67 H366.20 Q367.40 349.67 367.40 350.87 V363.5 Z" fill="#fff" stroke="#111" stroke-width="1.3"/>
<line x1="372.79999999999995" y1="344.6912" x2="372.79999999999995" y2="343.8614" stroke="#111" stroke-width="1.2" />
<line x1="370.59999999999997" y1="343.8614" x2="374.99999999999994" y2="343.8614" stroke="#111" stroke-width="1.2" />
<path d="M369.30 363.5 V345.89 Q369.30 344.69 370.50 344.69 H375.10 Q376.30 344.69 376.30 345.89 V363.5 Z" fill="#111" stroke="#111" stroke-width="0.7"/>
<line x1="388.9" y1="351.3296" x2="388.9" y2="350.7764" stroke="#111" stroke-width="1" />
<line x1="387.0" y1="350.7764" x2="390.79999999999995" y2="350.7764" stroke="#111" stroke-width="1" />
<path d="M385.60 363.5 V352.53 Q385.60 351.33 386.80 351.33 H391.00 Q392.20 351.33 392.20 352.53 V363.5 Z" fill="#fff" stroke="#111" stroke-width="1.3"/>
<line x1="397.59999999999997" y1="346.2125" x2="397.59999999999997" y2="344.8295" stroke="#111" stroke-width="1.2" />
<line x1="395.4" y1="344.8295" x2="399.79999999999995" y2="344.8295" stroke="#111" stroke-width="1.2" />
<path d="M394.10 363.5 V347.41 Q394.10 346.21 395.30 346.21 H399.90 Q401.10 346.21 401.10 347.41 V363.5 Z" fill="#111" stroke="#111" stroke-width="0.7"/>
<line x1="413.9" y1="347.1806" x2="413.9" y2="346.3508" stroke="#111" stroke-width="1" />
<line x1="412.0" y1="346.3508" x2="415.79999999999995" y2="346.3508" stroke="#111" stroke-width="1" />
<path d="M410.60 363.5 V348.38 Q410.60 347.18 411.80 347.18 H416.00 Q417.20 347.18 417.20 348.38 V363.5 Z" fill="#fff" stroke="#111" stroke-width="1.3"/>
<line x1="422.59999999999997" y1="348.9785" x2="422.59999999999997" y2="345.521" stroke="#111" stroke-width="1.2" />
<line x1="420.4" y1="345.521" x2="424.79999999999995" y2="345.521" stroke="#111" stroke-width="1.2" />
<path d="M419.10 363.5 V350.18 Q419.10 348.98 420.30 348.98 H424.90 Q426.10 348.98 426.10 350.18 V363.5 Z" fill="#111" stroke="#111" stroke-width="0.7"/>
<line x1="438.9" y1="350.6381" x2="438.9" y2="347.5955" stroke="#111" stroke-width="1" />
<line x1="437.0" y1="347.5955" x2="440.79999999999995" y2="347.5955" stroke="#111" stroke-width="1" />
<path d="M435.60 363.5 V351.84 Q435.60 350.64 436.80 350.64 H441.00 Q442.20 350.64 442.20 351.84 V363.5 Z" fill="#fff" stroke="#111" stroke-width="1.3"/>
<line x1="447.59999999999997" y1="296.8394" x2="447.59999999999997" y2="286.8818" stroke="#111" stroke-width="1.2" />
<line x1="445.4" y1="286.8818" x2="449.79999999999995" y2="286.8818" stroke="#111" stroke-width="1.2" />
<path d="M444.10 363.5 V298.04 Q444.10 296.84 445.30 296.84 H449.90 Q451.10 296.84 451.10 298.04 V363.5 Z" fill="#111" stroke="#111" stroke-width="0.7"/>
<line x1="463.7" y1="351.4679" x2="463.7" y2="350.6381" stroke="#111" stroke-width="1" />
<line x1="461.8" y1="350.6381" x2="465.59999999999997" y2="350.6381" stroke="#111" stroke-width="1" />
<path d="M460.40 363.5 V352.67 Q460.40 351.47 461.60 351.47 H465.80 Q467.00 351.47 467.00 352.67 V363.5 Z" fill="#fff" stroke="#111" stroke-width="1.3"/>
<line x1="472.4" y1="327.2654" x2="472.4" y2="319.6589" stroke="#111" stroke-width="1.2" />
<line x1="470.2" y1="319.6589" x2="474.59999999999997" y2="319.6589" stroke="#111" stroke-width="1.2" />
<path d="M468.90 363.5 V328.47 Q468.90 327.27 470.10 327.27 H474.70 Q475.90 327.27 475.90 328.47 V363.5 Z" fill="#111" stroke="#111" stroke-width="0.7"/>
<rect x="365.00" y="273.40" width="9.40" height="5.80" fill="#fff" stroke="#111" stroke-width="1.2" rx="0.8"/>
<rect x="365.00" y="283.20" width="9.40" height="6.00" fill="#111" stroke="#111" stroke-width="1" />
<text x="379" y="279.46" font-size="8.5" font-weight="bold" textLength="24" lengthAdjust="spacingAndGlyphs" fill="#111" stroke="#111" stroke-width="0.2">pGL3c</text>
<text x="379" y="289.26" font-size="8.5" font-weight="bold" textLength="53.2" lengthAdjust="spacingAndGlyphs" fill="#111" stroke="#111" stroke-width="0.2">pGL3c-(-35kb)</text>
<text x="316.3" y="376.38" font-size="8" font-weight="bold" textLength="34.2" lengthAdjust="spacingAndGlyphs" fill="#111" stroke="#111" stroke-width="0.2">siControl</text>
<line x1="364.7" y1="373.5" x2="372.09999999999997" y2="373.5" stroke="#111" stroke-width="1.5" />
<line x1="389.4" y1="373.5" x2="397.0" y2="373.5" stroke="#111" stroke-width="1.5" />
<line x1="393.2" y1="369.7" x2="393.2" y2="377.3" stroke="#111" stroke-width="1.5" />
<line x1="414.5" y1="373.5" x2="421.9" y2="373.5" stroke="#111" stroke-width="1.5" />
<line x1="439.5" y1="373.5" x2="446.9" y2="373.5" stroke="#111" stroke-width="1.5" />
<line x1="464.3" y1="373.5" x2="471.7" y2="373.5" stroke="#111" stroke-width="1.5" />
<text x="316.3" y="388.68" font-size="8" font-weight="bold" textLength="32.5" lengthAdjust="spacingAndGlyphs" fill="#111" stroke="#111" stroke-width="0.2">siMysm1</text>
<line x1="364.7" y1="385.8" x2="372.09999999999997" y2="385.8" stroke="#111" stroke-width="1.5" />
<line x1="389.5" y1="385.8" x2="396.9" y2="385.8" stroke="#111" stroke-width="1.5" />
<line x1="414.4" y1="385.8" x2="422.0" y2="385.8" stroke="#111" stroke-width="1.5" />
<line x1="418.2" y1="382.0" x2="418.2" y2="389.6" stroke="#111" stroke-width="1.5" />
<line x1="439.5" y1="385.8" x2="446.9" y2="385.8" stroke="#111" stroke-width="1.5" />
<line x1="464.2" y1="385.8" x2="471.8" y2="385.8" stroke="#111" stroke-width="1.5" />
<line x1="468" y1="382.0" x2="468" y2="389.6" stroke="#111" stroke-width="1.5" />
<text x="306.3" y="401.18" font-size="8" font-weight="bold" textLength="50" lengthAdjust="spacingAndGlyphs" fill="#111" stroke="#111" stroke-width="0.2">Gata2+Runx1</text>
<line x1="364.7" y1="398.3" x2="372.09999999999997" y2="398.3" stroke="#111" stroke-width="1.5" />
<line x1="389.5" y1="398.3" x2="396.9" y2="398.3" stroke="#111" stroke-width="1.5" />
<line x1="414.5" y1="398.3" x2="421.9" y2="398.3" stroke="#111" stroke-width="1.5" />
<line x1="439.4" y1="398.3" x2="447.0" y2="398.3" stroke="#111" stroke-width="1.5" />
<line x1="443.2" y1="394.5" x2="443.2" y2="402.1" stroke="#111" stroke-width="1.5" />
<line x1="464.2" y1="398.3" x2="471.8" y2="398.3" stroke="#111" stroke-width="1.5" />
<line x1="468" y1="394.5" x2="468" y2="402.1" stroke="#111" stroke-width="1.5" />
<path d="M437.7 343.5 V276.3 H446.5 V284" stroke="#111" stroke-width="1" fill="none" />
<path d="M447.7 284 V277.1 H473.1 V317" stroke="#111" stroke-width="1" fill="none" />
<path d="M463.3 348.7 V309.6 H471.8 V317" stroke="#111" stroke-width="1" fill="none" />
<text x="441.7" y="274.82" font-size="8.4" font-weight="bold" text-anchor="middle" fill="#111" stroke="#111" stroke-width="0.3">*</text>
<text x="460.4" y="274.82" font-size="8.4" font-weight="bold" text-anchor="middle" fill="#111" stroke="#111" stroke-width="0.3">*</text>
<text x="466.4" y="307.82" font-size="8.4" font-weight="bold" text-anchor="middle" fill="#111" stroke="#111" stroke-width="0.3">*</text>
</g>
</g>
</svg>
</body></html>
